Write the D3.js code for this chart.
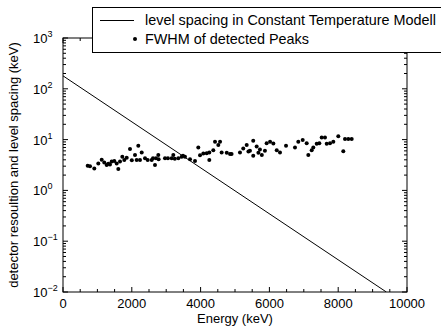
<!DOCTYPE html>
<html>
<head>
<meta charset="utf-8">
<script src="https://cdn.jsdelivr.net/npm/d3@7"></script>
<style>
  body { margin: 0; background: #fff; }
  svg { display: block; font-family: 'Liberation Sans', Arial, sans-serif; }
</style>
</head>
<body>
<div class="chart"></div>
<script>
// level spacing (constant temperature model), straight line in log space
const spacingEnergy = [0, 9400]
const spacingValue = [180, 0.01]

// FWHM of detected peaks [keV]
const peakEnergy = [
  718, 785, 910, 1026, 1125, 1200, 1270, 1317, 1366, 1416, 1491, 1561, 1608, 1657,
  1724, 1782, 1852, 1948, 2000, 2093, 2142, 2189, 2238, 2288, 2384, 2462, 2579,
  2616, 2674, 2703, 2770, 2780, 2965, 3050, 3160, 3207, 3250, 3352, 3450, 3488,
  3546, 3692, 3837, 3933, 3983, 4079, 4177, 4253, 4253, 4369, 4419, 4515, 4565,
  4612, 4760, 4855, 4900, 5145, 5240, 5340, 5390, 5435, 5530, 5530, 5630, 5680,
  5725, 5780, 5870, 5920, 6020, 6115, 6213, 6308, 6483, 6744, 6840, 6968, 7084,
  7131, 7230, 7276, 7375, 7451, 7520, 7616, 7666, 7762, 7858, 8003, 8148, 8198,
  8294, 8392
]
const peakFwhm = [
  3.06, 3.0, 2.71, 3.4, 4.0, 3.55, 3.16, 3.35, 3.24, 3.7, 3.8, 3.4, 2.63, 3.7,
  4.6, 3.96, 4.4, 6.5, 3.9, 4.97, 3.96, 7.6, 3.96, 5.6, 4.3, 3.96, 3.96,
  4.3, 3.16, 4.3, 5.0, 4.1, 4.3, 4.3, 4.3, 5.0, 4.2, 4.3, 4.6, 4.8,
  4.6, 4.1, 3.8, 7.0, 4.9, 5.3, 5.4, 5.6, 3.96, 6.2, 9.1, 7.8, 9.1,
  5.6, 5.5, 5.2, 5.2, 5.6, 6.7, 7.8, 5.8, 6.0, 9.5, 4.8, 7.3, 5.5,
  6.4, 5.0, 6.0, 8.5, 9.1, 8.4, 6.2, 5.6, 7.6, 7.0, 9.1, 9.8, 8.5,
  5.0, 6.2, 7.0, 8.3, 8.5, 11.0, 11.0, 8.3, 8.5, 9.1, 11.7, 5.9, 10.3,
  10.3, 10.3
]

const xTicks = [0, 2000, 4000, 6000, 8000, 10000]
const yTicks = [1e-2, 1e-1, 1e0, 1e1, 1e2, 1e3]
const yExp = ['\u22122', '\u22121', '0', '1', '2', '3']

const legendLabels = ['level spacing in Constant Temperature Modell', 'FWHM of detected Peaks']

const width = 441
const height = 326
const margin = {top: 38, right: 34, bottom: 34, left: 63}
const w = width - margin.left - margin.right
const h = height - margin.top - margin.bottom

const x = d3.scaleLinear().domain([0, 10000]).range([0, w])
const y = d3.scaleLog().domain([1e-2, 1e3]).range([h, 0])

const svg = d3.select('.chart')
  .append('svg')
  .attr('width', width)
  .attr('height', height)

const g = svg.append('g')
  .attr('transform', `translate(${margin.left},${margin.top})`)

const clip = svg.append('clipPath').attr('id', 'plot')
clip.append('rect').attr('width', w).attr('height', h)

// minor / major ticks, drawn inward on all four sides
const xMinor = d3.range(0, 10001, 500)
const yMinor = []
for (let e = -2; e < 3; e++) {
  for (let k = 2; k < 10; k++) yMinor.push(k * Math.pow(10, e))
}

const ticks = g.append('g').attr('stroke', '#000').attr('stroke-width', 1)
xMinor.forEach(v => {
  const len = v % 2000 === 0 ? 5 : 3
  ticks.append('line').attr('x1', x(v)).attr('x2', x(v)).attr('y1', h).attr('y2', h - len)
  ticks.append('line').attr('x1', x(v)).attr('x2', x(v)).attr('y1', 0).attr('y2', len)
})
yMinor.forEach(v => {
  ticks.append('line').attr('x1', 0).attr('x2', 3).attr('y1', y(v)).attr('y2', y(v))
  ticks.append('line').attr('x1', w).attr('x2', w - 3).attr('y1', y(v)).attr('y2', y(v))
})
yTicks.forEach(v => {
  ticks.append('line').attr('x1', 0).attr('x2', 5).attr('y1', y(v)).attr('y2', y(v))
  ticks.append('line').attr('x1', w).attr('x2', w - 5).attr('y1', y(v)).attr('y2', y(v))
})

g.append('rect')
  .attr('width', w)
  .attr('height', h)
  .attr('fill', 'none')
  .attr('stroke', '#000')
  .attr('stroke-width', 1)

// x tick labels
g.append('g')
  .selectAll('text')
  .data(xTicks)
  .enter()
  .append('text')
  .attr('x', d => x(d))
  .attr('y', h + 16)
  .attr('text-anchor', 'middle')
  .attr('font-size', 13)
  .text(d => d)

// y tick labels: 10 with superscript exponent
const yl = g.append('g')
  .selectAll('text')
  .data(yTicks)
  .enter()
  .append('text')
  .attr('x', 33 - margin.left)
  .attr('y', d => y(d) + 5)
  .attr('font-size', 13)
yl.append('tspan').text('10')
yl.append('tspan')
  .attr('dy', -6)
  .attr('font-size', 9)
  .text((d, i) => yExp[i])

g.append('text')
  .attr('x', w / 2)
  .attr('y', h + 31)
  .attr('text-anchor', 'middle')
  .attr('font-size', 13)
  .text('Energy (keV)')

g.append('text')
  .attr('transform', `translate(${18 - margin.left},${h / 2}) rotate(-90)`)
  .attr('text-anchor', 'middle')
  .attr('font-size', 13)
  .text('detector resoultion and level spacing (keV)')

// data
const plot = g.append('g').attr('clip-path', 'url(#plot)')

const line = d3.line()
  .x(d => x(d[0]))
  .y(d => y(d[1]))

plot.append('path')
  .datum(d3.zip(spacingEnergy, spacingValue))
  .attr('d', line)
  .attr('fill', 'none')
  .attr('stroke', '#000')
  .attr('stroke-width', 1)

plot.append('g')
  .selectAll('circle')
  .data(d3.zip(peakEnergy, peakFwhm))
  .enter()
  .append('circle')
  .attr('cx', d => x(d[0]))
  .attr('cy', d => y(d[1]))
  .attr('r', 2)
  .attr('fill', '#000')

// legend
const legend = svg.append('g')
legend.append('rect')
  .attr('x', 92.5)
  .attr('y', 7.5)
  .attr('width', 360)
  .attr('height', 45)
  .attr('fill', '#fff')
  .attr('stroke', '#000')
legend.append('line')
  .attr('x1', 100).attr('x2', 134)
  .attr('y1', 20.5).attr('y2', 20.5)
  .attr('stroke', '#000')
legend.append('circle')
  .attr('cx', 135).attr('cy', 39)
  .attr('r', 2)
  .attr('fill', '#000')
legend.selectAll('text')
  .data(legendLabels)
  .enter()
  .append('text')
  .attr('x', 145)
  .attr('y', (d, i) => 25 + i * 19)
  .attr('font-size', 14.4)
  .text(d => d)
</script>
</body>
</html>
